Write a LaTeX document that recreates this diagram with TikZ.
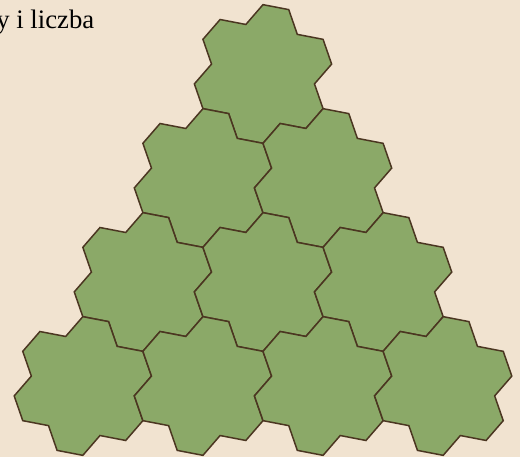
\documentclass[tikz,border=0pt]{standalone}
\usepackage{fontspec}
\setmainfont{Liberation Serif}
\usetikzlibrary{positioning}
\definecolor{cpaper}{HTML}{F1E3D0}
\definecolor{cgreen}{HTML}{8BA968}
\definecolor{cbrown}{HTML}{4B3621}
\tikzset{
  every picture/.style={line width=0.85pt},
  tile/.style={draw=cbrown, fill=cgreen, line join=miter},
  caption/.style={font=\fontsize{15.2}{18}\selectfont, text=black, inner sep=0pt},
}
% one hexagon with zigzag sides, centre given
\newcommand{\gtile}[1]{%
  \draw[tile] (#1) ++(90:1.387)
    \foreach \k in {0,...,4} {-- ++({-10.893-60*\k}:0.5242) -- ++({-70.893-60*\k}:0.5242) -- ++({-10.893-60*\k}:0.5242)}
    -- ++(-310.893:0.5242) -- ++(-370.893:0.5242) -- cycle;}

\begin{document}
\begin{tikzpicture}
  \useasboundingbox (0,0) rectangle (10.4,9.14);
  \fill[cpaper] (0,0) rectangle (10.4,9.14);
  \clip (0,0) rectangle (10.4,9.14);
  \node[caption, anchor=base east] (title) at (1.9,8.574) {y i liczba};
  % rows of tiles, top to bottom
  \foreach \r in {0,...,3} {
    \foreach \j in {0,...,\r} {
      \gtile{{5.26+(2*\j-\r)*1.2012},{7.66-2.08*\r}}
    }
  }
\end{tikzpicture}
\end{document}
